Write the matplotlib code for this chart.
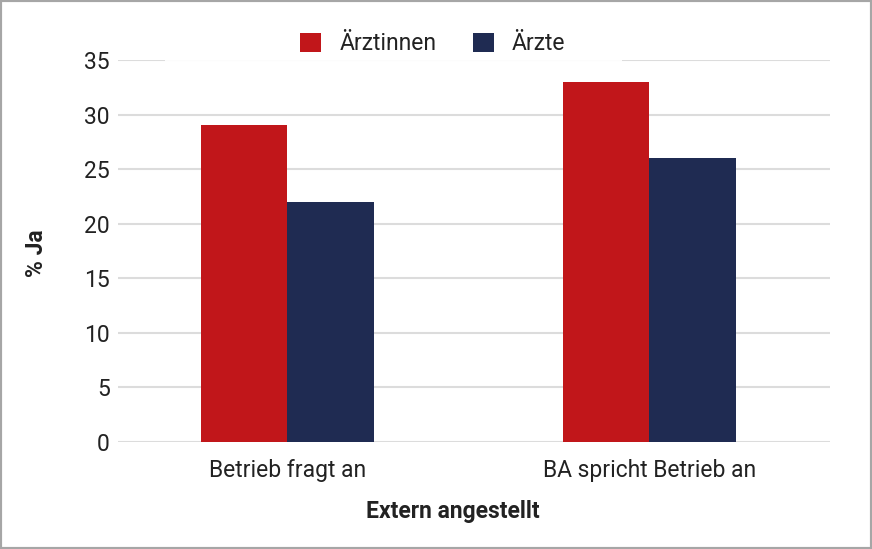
import matplotlib
matplotlib.use("Agg")
import matplotlib.pyplot as plt
from matplotlib.patches import Rectangle
import numpy as np

categories = ["Betrieb fragt an", "BA spricht Betrieb an"]
series_names = ["Ärztinnen", "Ärzte"]
aerztinnen = [29, 33]
aerzte = [22, 26]
yticks = [0, 5, 10, 15, 20, 25, 30, 35]

plt.rcParams['font.family'] = ['Roboto', 'DejaVu Sans']

fig = plt.figure(figsize=(8.72, 5.49), dpi=100)
ax = fig.add_axes([118/872, 1-442/549, (830-118)/872, (442-60)/549])

x = np.arange(len(categories))
w = 0.239
red = "#c1161a"
navy = "#1f2b52"
ax.bar(x - w/2, aerztinnen, w, color=red, label=series_names[0], zorder=3)
ax.bar(x + w/2, aerzte, w, color=navy, label=series_names[1], zorder=3)

fs = 16.5
ax.set_xlim(-0.468, 1.499)
ax.set_ylim(0, 35)
ax.set_yticks(yticks)
ax.set_xticks(x)
ax.set_xticklabels(categories, fontsize=fs, color="#222222")
ax.tick_params(axis='y', labelsize=fs, colors="#222222", length=0, pad=6)
ax.tick_params(axis='x', length=0, pad=12)
ax.yaxis.grid(True, color="#dcdcdc", linewidth=1.5, zorder=0)
ax.set_axisbelow(True)
for s in ax.spines.values():
    s.set_visible(False)
ax.set_ylabel("% Ja", fontsize=fs, fontweight='bold', color="#222222")
ax.yaxis.set_label_coords(-0.114, 0.495)
ax.set_xlabel("Extern angestellt", fontsize=fs, fontweight='bold', color="#222222")
ax.xaxis.set_label_coords(0.47, -0.183)
ax.xaxis.label.set_va('center')
ax.yaxis.label.set_va('center')

ax.add_patch(Rectangle(((165-118)/712, 0.985), (622-165)/712, 0.03,
                       transform=ax.transAxes, facecolor="white", edgecolor="none",
                       alpha=0.92, zorder=2, clip_on=False))

leg = ax.legend(loc='center', bbox_to_anchor=(433/872, 1-44/549), bbox_transform=fig.transFigure,
                ncol=2, frameon=False, fontsize=fs, handlelength=0.9, handleheight=0.9,
                handletextpad=0.8, columnspacing=1.6)
for t in leg.get_texts():
    t.set_color("#222222")

fig.patches.append(Rectangle((0, 0), 1, 1, transform=fig.transFigure, fill=False,
                             edgecolor="#a6a6a6", linewidth=3, zorder=10))

fig.savefig("out.png", dpi=100)
